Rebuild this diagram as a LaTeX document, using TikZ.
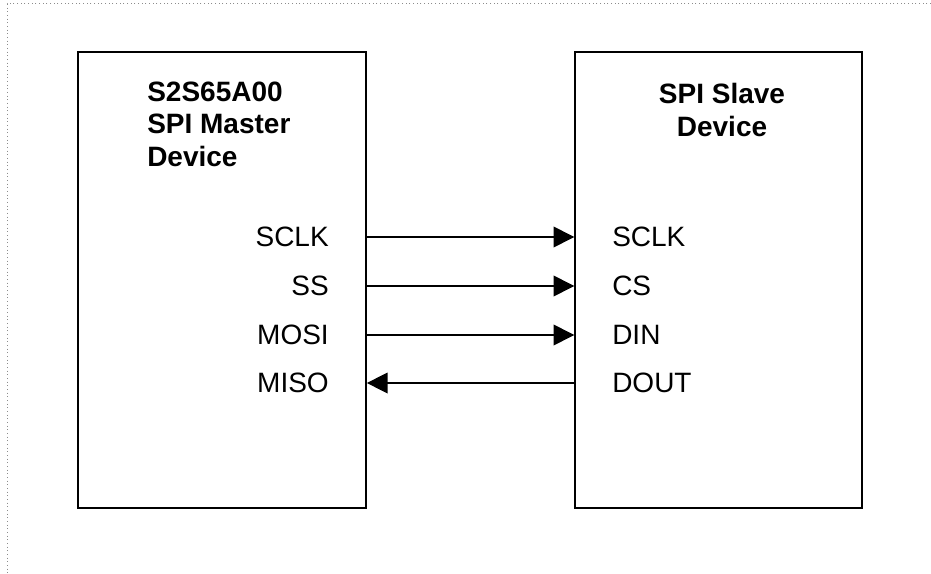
\documentclass[tikz,border=0pt]{standalone}
\usepackage{fontspec}
\setmainfont{Liberation Sans}
\usetikzlibrary{arrows.meta}

\begin{document}
\begin{tikzpicture}[x=0.75pt,y=-0.75pt,
  devbox/.style={draw,line width=1.3pt,minimum width=216pt,minimum height=342pt,inner sep=0pt},
  devtitle/.style={font=\fontsize{21}{24.4}\selectfont\bfseries,inner sep=0pt},
  pin/.style={font=\fontsize{21}{24.4}\selectfont,inner sep=0pt},
  sig/.style={line width=1pt,-{Triangle[length=15.5pt,width=15.5pt]}}]
  \useasboundingbox (0,0) rectangle (931,574);
  \draw[gray!90,dotted,line width=0.75pt] (931,4) -- (7,4) -- (7,574);
  % the two devices
  \node[devbox] (master) at (222,280) {};
  \node[devbox,minimum width=215pt] (slave) at (718.5,280) {};
  \node[devtitle,align=left,anchor=west] (mtitle) at (147,124.3) {S2S65A00\\SPI Master\\Device};
  \node[devtitle,align=center] (stitle) at (722,110) {SPI Slave\\Device};
  % pins
  \node[pin,anchor=east] (msclk) at (329,237) {SCLK};
  \node[pin,anchor=east] (mss) at (329,286) {SS};
  \node[pin,anchor=east] (mmosi) at (329,335) {MOSI};
  \node[pin,anchor=east] (mmiso) at (329,383) {MISO};
  \node[pin,anchor=west] (ssclk) at (612,237) {SCLK};
  \node[pin,anchor=west] (scs) at (612,286) {CS};
  \node[pin,anchor=west] (sdin) at (612,335) {DIN};
  \node[pin,anchor=west] (sdout) at (612,383) {DOUT};
  % signals
  \draw[sig] (master.east |- msclk) -- (slave.west |- ssclk);
  \draw[sig] (master.east |- mss) -- (slave.west |- scs);
  \draw[sig] (master.east |- mmosi) -- (slave.west |- sdin);
  \draw[sig] (slave.west |- sdout) -- (master.east |- mmiso);
\end{tikzpicture}
\end{document}
